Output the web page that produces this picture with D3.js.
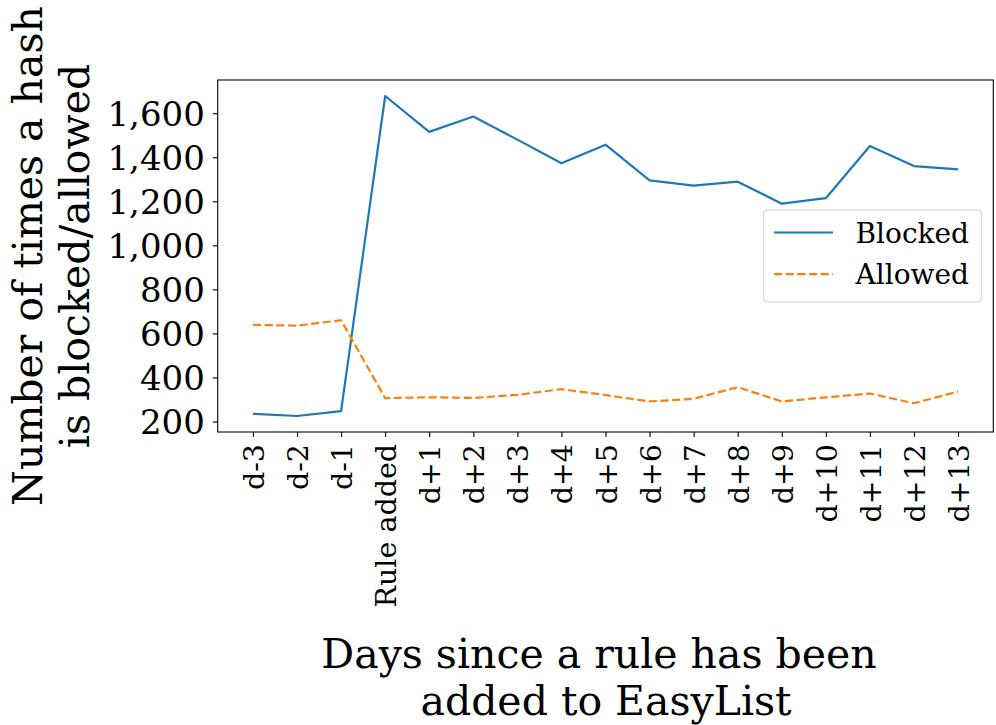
<!DOCTYPE html>
<html>
<head>
<meta charset="utf-8">
<script src="https://cdn.jsdelivr.net/npm/d3@7"></script>
<style>
  body { margin: 0; background: #fff; }
  text { font-family: "DejaVu Serif", serif; fill: #000; }
</style>
</head>
<body>
<svg id="mysvg" width="996" height="725"></svg>
<script>
// days around the day a rule got added
var days = ["d-3", "d-2", "d-1", "Rule added", "d+1", "d+2", "d+3", "d+4", "d+5",
            "d+6", "d+7", "d+8", "d+9", "d+10", "d+11", "d+12", "d+13"];
var blocked = [235, 225, 247, 1678, 1515, 1585, 1480, 1373, 1457, 1295, 1271, 1289, 1189, 1214, 1451, 1360, 1345];
var allowed = [639, 635, 660, 306, 310, 307, 321, 347, 320, 291, 303, 356, 291, 310, 327, 283, 336];
var yTicks = [200, 400, 600, 800, 1000, 1200, 1400, 1600];

var svg = d3.select("#mysvg");
var margin = {top: 80, right: 2.7, bottom: 293, left: 217.7};
var width = 996 - margin.left - margin.right;
var height = 725 - margin.top - margin.bottom;
var lw = 2.2;
var dash = (3.7 * lw) + "," + (1.6 * lw);

var g = svg.append("g").attr("transform", "translate(" + margin.left + "," + margin.top + ")");

// matplotlib style 5% padding around the data
var n = days.length;
var x = d3.scaleLinear().domain([-0.8, n - 1 + 0.8]).range([0, width]);
var lo = d3.min(blocked.concat(allowed)), hi = d3.max(blocked.concat(allowed));
var pad = (hi - lo) * 0.05;
var y = d3.scaleLinear().domain([lo - pad, hi + pad]).range([height, 0]);

// y axis
var yAxis = g.append("g")
    .call(d3.axisLeft(y).tickValues(yTicks).tickFormat(d3.format(",")).tickSize(4.9).tickPadding(8));
yAxis.select(".domain").remove();
yAxis.selectAll("line").attr("stroke", "#000").attr("stroke-width", 1.1);
yAxis.selectAll("text")
    .attr("font-size", 34)
    .attr("font-family", "DejaVu Serif")
    .attr("dy", "0.36em");

// x axis, labels turned upright
var xAxis = g.append("g")
    .attr("transform", "translate(0," + height + ")")
    .call(d3.axisBottom(x).tickValues(d3.range(n)).tickFormat(function(i) { return days[i]; }).tickSize(4.9));
xAxis.select(".domain").remove();
xAxis.selectAll("line").attr("stroke", "#000").attr("stroke-width", 1.1);
xAxis.selectAll("text")
    .attr("font-size", 28.5)
    .attr("font-family", "DejaVu Serif")
    .attr("text-anchor", "end")
    .attr("transform", "rotate(-90)")
    .attr("x", -12)
    .attr("y", 0)
    .attr("dy", "0.37em");

// lines
var lineGen = d3.line()
    .x(function(d, i) { return x(i); })
    .y(function(d) { return y(d); });

g.append("path")
    .datum(blocked)
    .attr("fill", "none")
    .attr("stroke", "#1f77b4")
    .attr("stroke-width", lw)
    .attr("stroke-linejoin", "round")
    .attr("d", lineGen);

g.append("path")
    .datum(allowed)
    .attr("fill", "none")
    .attr("stroke", "#ff7f0e")
    .attr("stroke-width", lw)
    .attr("stroke-dasharray", dash)
    .attr("d", lineGen);

// frame around the plot
g.append("rect")
    .attr("width", width)
    .attr("height", height)
    .attr("fill", "none")
    .attr("stroke", "#000")
    .attr("stroke-width", 1.1);

// legend
var legend = g.append("g").attr("transform", "translate(" + (763.5 - margin.left) + "," + (210 - margin.top) + ")");
legend.append("rect")
    .attr("width", 218)
    .attr("height", 92)
    .attr("rx", 4)
    .attr("fill", "#fff")
    .attr("fill-opacity", 0.8)
    .attr("stroke", "#d6d6d6")
    .attr("stroke-width", 1.1);

var items = [
    {name: "Blocked", color: "#1f77b4", dash: null},
    {name: "Allowed", color: "#ff7f0e", dash: dash}
];
var row = legend.selectAll(".item")
    .data(items)
    .enter()
    .append("g")
    .attr("transform", function(d, i) { return "translate(0," + (22.5 + i * 41.7) + ")"; });

row.append("line")
    .attr("x1", 10.5).attr("x2", 69.5)
    .attr("stroke", function(d) { return d.color; })
    .attr("stroke-width", lw)
    .attr("stroke-dasharray", function(d) { return d.dash; });

row.append("text")
    .attr("x", 92)
    .attr("dy", "0.36em")
    .attr("font-size", 28)
    .text(function(d) { return d.name; });

// axis titles (first line carries a trailing space in the original)
var xl = svg.append("text")
    .attr("text-anchor", "middle")
    .attr("font-size", 41);
xl.append("tspan").attr("x", 599).attr("y", 668).text("Days since a rule has been");
xl.append("tspan").attr("x", 606).attr("y", 715).text("added to EasyList");

var yl = svg.append("text")
    .attr("text-anchor", "middle")
    .attr("font-size", 41)
    .attr("transform", "translate(0," + (margin.top + height / 2) + ") rotate(-90)");
yl.append("tspan").attr("x", 0).attr("y", 42).text("Number of times a hash");
yl.append("tspan").attr("x", 0).attr("y", 89).text("is blocked/allowed");
</script>
</body>
</html>
